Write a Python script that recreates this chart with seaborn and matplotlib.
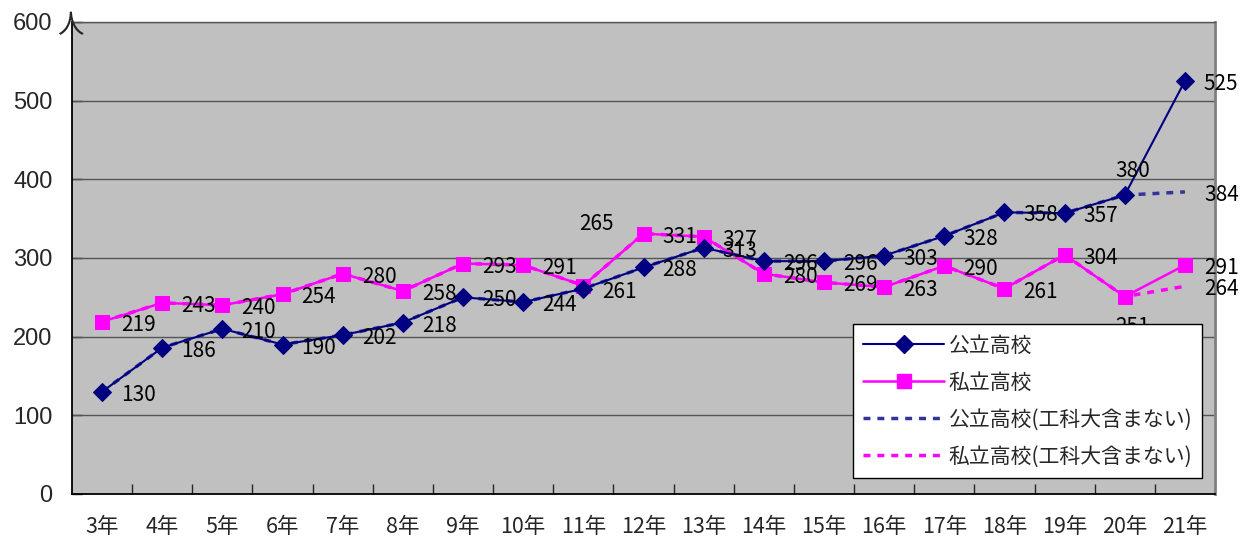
import matplotlib
matplotlib.use("Agg")
import matplotlib.pyplot as plt
import seaborn as sns
from matplotlib.lines import Line2D

years = ['3年', '4年', '5年', '6年', '7年', '8年', '9年', '10年', '11年', '12年',
         '13年', '14年', '15年', '16年', '17年', '18年', '19年', '20年', '21年']
public = [130, 186, 210, 190, 202, 218, 250, 244, 261, 288, 313, 296, 296, 303, 328, 358, 357, 380, 525]
private = [219, 243, 240, 254, 280, 258, 293, 291, 265, 331, 327, 280, 269, 263, 290, 261, 304, 251, 291]
public_excl = [130, 186, 210, 190, 202, 218, 250, 244, 261, 288, 313, 296, 296, 303, 328, 358, 357, 380, 384]
private_excl = [219, 243, 240, 254, 280, 258, 293, 291, 265, 331, 327, 280, 269, 263, 290, 261, 304, 251, 264]
yticks = [0, 100, 200, 300, 400, 500, 600]

names = ['公立高校', '私立高校', '公立高校(工科大含まない)', '私立高校(工科大含まない)']

sns.set_style("white")
plt.rcParams['font.family'] = ['Noto Sans CJK JP', 'DejaVu Sans']

fig = plt.figure(figsize=(12.4, 5.4), dpi=100)
ax = fig.add_axes([72 / 1240, 46 / 540, 1143 / 1240, 472 / 540])
ax.set_facecolor('#C0C0C0')

x = list(range(len(years)))
c_pub = '#000080'
c_pri = '#FF00FF'
c_pub_d = '#333399'

sns.lineplot(x=x, y=public_excl, ax=ax, color=c_pub_d, linewidth=2.5,
             linestyle=(0, (2, 2)), zorder=2)
sns.lineplot(x=x, y=private_excl, ax=ax, color=c_pri, linewidth=2.5,
             linestyle=(0, (2, 2)), zorder=2)
sns.lineplot(x=x, y=public, ax=ax, color=c_pub, linewidth=1.5, marker='D',
             markersize=9, markeredgecolor=c_pub, zorder=4)
sns.lineplot(x=x, y=private, ax=ax, color=c_pri, linewidth=1.8, marker='s',
             markersize=10, markeredgecolor=c_pri, zorder=3)

ax.set_xlim(-0.5, len(years) - 0.5)
ax.set_ylim(0, 600)

for v in yticks[1:]:
    ax.axhline(v, color='#555555', linewidth=1, zorder=1)

lab_font = dict(fontsize=15, color='black', family=['Noto Sans CJK JP', 'DejaVu Sans'])
special = {('pri', 8): (13, 62, 'center'),
           ('pub', 17): (8, 24, 'center'),
           ('pri', 17): (8, -30, 'center')}
for key, series in (('pub', public), ('pri', private)):
    for i, v in enumerate(series):
        dx, dy, ha = special.get((key, i), (19, -3, 'left'))
        ax.annotate(str(v), (i, v), xytext=(dx, dy), textcoords='offset pixels',
                    ha=ha, va='center', zorder=5, **lab_font)
for series in (public_excl, private_excl):
    i = len(series) - 1
    ax.annotate(str(series[i]), (i, series[i]), xytext=(19, -3),
                textcoords='offset pixels', ha='left', va='center', zorder=5, **lab_font)

ax.set_yticks(yticks)
ax.set_yticklabels([str(v) for v in yticks])
ax.tick_params(axis='y', direction='in', length=7, width=1, pad=14, left=True, labelsize=17)
for t in ax.get_yticklabels():
    t.set_fontfamily(['Liberation Sans', 'DejaVu Sans'])
ax.set_xticks(x)
ax.set_xticklabels(years)
ax.tick_params(axis='x', which='major', length=0, pad=16, labelsize=15.5)
ax.set_xticks([i - 0.5 for i in range(1, len(years))], minor=True)
ax.tick_params(axis='x', which='minor', direction='in', length=7, width=1, bottom=True)

for s in ('left', 'bottom'):
    ax.spines[s].set_color('black')
    ax.spines[s].set_linewidth(1.3)
ax.spines['top'].set_color('#555555')
ax.spines['top'].set_linewidth(1)
ax.spines['right'].set_color('#808080')
ax.spines['right'].set_linewidth(2)

fig.text(70 / 1240, 1 - 26 / 540, '人', ha='center', va='center', fontsize=19)

handles = [
    Line2D([], [], color=c_pub, linewidth=1.5, marker='D', markersize=9),
    Line2D([], [], color=c_pri, linewidth=1.8, marker='s', markersize=10),
    Line2D([], [], color=c_pub_d, linewidth=2.5, linestyle=(0, (2, 2))),
    Line2D([], [], color=c_pri, linewidth=2.5, linestyle=(0, (2, 2))),
]
leg = ax.legend(handles, names, loc='lower left', bbox_to_anchor=(0.683, 0.034, 0.306, 0.3),
                mode='expand', borderaxespad=0, fancybox=False, framealpha=1,
                edgecolor='black', fontsize=15, handlelength=3.9, handletextpad=0.2,
                labelspacing=0.72, borderpad=0.5)
leg.get_frame().set_linewidth(1)
leg.set_zorder(10)

fig.savefig('out.png', dpi=100, facecolor='white')
